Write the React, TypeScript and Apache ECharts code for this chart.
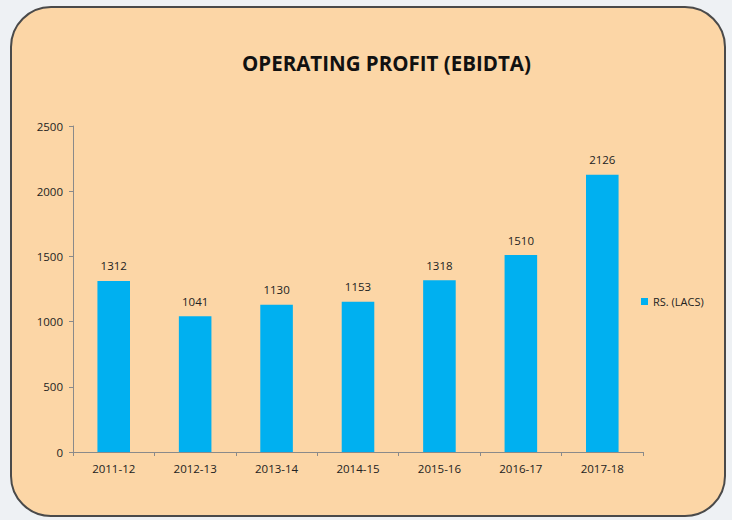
import React, { useEffect, useRef } from "react";
import * as echarts from "echarts";

const categories = ["2011-12", "2012-13", "2013-14", "2014-15", "2015-16", "2016-17", "2017-18"];
const values = [1312, 1041, 1130, 1153, 1318, 1510, 2126];
const seriesName = "RS. (LACS)";
const titleText = "OPERATING PROFIT (EBIDTA)";

export default function App() {
  const ref = useRef<HTMLDivElement>(null);
  useEffect(() => {
    document.body.style.margin = "0";
    const chart = echarts.init(ref.current!, undefined, { renderer: "svg" });
    const font = "'Open Sans', 'Liberation Sans', sans-serif";
    chart.setOption({
      animation: false,
      backgroundColor: "#eef1f4",
      graphic: [
        {
          type: "rect",
          z: -10,
          shape: { x: 11, y: 7, width: 714, height: 509, r: [40, 40, 40, 40] },
          style: { fill: "#fcd6a6", stroke: "#4a4a4a", lineWidth: 2 },
        },
      ],
      title: {
        text: titleText,
        left: 237,
        top: 47,
        textStyle: { fontFamily: font, fontSize: 20.5, fontWeight: "bold", color: "#111" },
      },
      legend: {
        data: [seriesName],
        left: 636,
        top: 291,
        icon: "rect",
        itemWidth: 7,
        itemHeight: 7,
        itemGap: 4,
        textStyle: { fontFamily: font, fontSize: 11, color: "#222" },
      },
      grid: { left: 73, right: 89, top: 126, bottom: 68, containLabel: false },
      xAxis: {
        type: "category",
        data: categories,
        axisLine: { lineStyle: { color: "#8a8a8a" } },
        axisTick: { show: true, length: 4, lineStyle: { color: "#8a8a8a" } },
        axisLabel: { fontFamily: font, fontSize: 11.5, color: "#222", margin: 10 },
      },
      yAxis: {
        type: "value",
        min: 0,
        max: 2500,
        interval: 500,
        splitLine: { show: false },
        axisLine: { show: true, lineStyle: { color: "#8a8a8a" } },
        axisTick: { show: true, length: 4, lineStyle: { color: "#8a8a8a" } },
        axisLabel: {
          fontFamily: font,
          fontSize: 11.5,
          color: "#222",
          margin: 10,
          formatter: (v: number) => String(v),
        },
      },
      series: [
        {
          name: seriesName,
          type: "bar",
          data: values,
          barWidth: "40%",
          itemStyle: { color: "#00b0f0" },
          label: {
            show: true,
            position: "top",
            distance: 9,
            fontFamily: font,
            fontSize: 11.5,
            color: "#222",
          },
        },
      ],
    });
    return () => chart.dispose();
  }, []);
  return <div ref={ref} style={{ width: 732, height: 520 }} />;
}
